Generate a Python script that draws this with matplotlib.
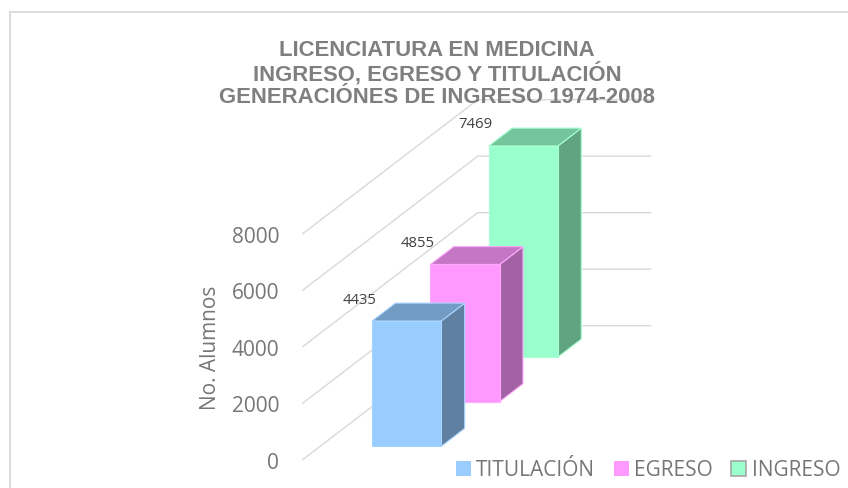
import matplotlib
matplotlib.use("Agg")
import matplotlib.pyplot as plt
from matplotlib.patches import Polygon, Patch, Rectangle

plt.rcParams["font.family"] = ["Open Sans", "DejaVu Sans"]

# data
series = ["TITULACIÓN", "EGRESO", "INGRESO"]
values = [4435, 4855, 7469]
y_ticks = [0, 2000, 4000, 6000, 8000]
title = "LICENCIATURA EN MEDICINA\nINGRESO, EGRESO Y TITULACIÓN\nGENERACIÓNES DE INGRESO 1974-2008"
y_label = "No. Alumnos"

# colours: front, side, top
front_colors = ["#99CCFF", "#FF99FF", "#99FFCC"]
side_colors = ["#6080A2", "#A362A3", "#60A480"]
top_colors = ["#739CC4", "#C576C5", "#75C59C"]
edge_colors = ["#A9D3FF", "#FFA9FF", "#A9FFD3"]

# oblique projection of the depth axis (in x units / value units)
DX = 1.0116
DV = 4743.0


def proj(x, v, t):
    return (x + t * DX, v + t * DV)


fig = plt.figure(figsize=(8.48, 4.89), dpi=100)
fig.patches.append(Rectangle((10 / 848, -0.1), 1.2, 1 - 13 / 489 + 0.1,
                             transform=fig.transFigure, fill=False,
                             edgecolor="#D9D9D9", lw=1.3))

ax = fig.add_axes([302.7 / 848, 1 - 460.7 / 489, 348 / 848, 360 / 489])
ax.set_xlim(0, DX + 1)
ax.set_ylim(0, max(y_ticks) + DV)
for s in ax.spines.values():
    s.set_visible(False)
ax.set_xticks([])
ax.set_yticks(y_ticks)
ax.tick_params(axis="y", length=0, pad=17, labelsize=15, labelcolor="#767676")
ax.patch.set_alpha(0)

# gridlines: left wall diagonal then back wall
for v in y_ticks:
    p0 = proj(0, v, 0)
    p1 = proj(0, v, 1)
    p2 = proj(1, v, 1)
    ax.plot([p0[0], p1[0], p2[0]], [p0[1], p1[1], p2[1]],
            color="#D9D9D9", lw=1, zorder=1, clip_on=False)

# bars, drawn back to front
n = len(series)
x0, x1 = 0.3, 0.7
for i in reversed(range(n)):
    h = values[i]
    t0 = (i + 0.3) / n
    t1 = (i + 0.7) / n
    z = 10 + (n - i) * 3
    front = [proj(x0, 0, t0), proj(x1, 0, t0), proj(x1, h, t0), proj(x0, h, t0)]
    side = [proj(x1, 0, t0), proj(x1, 0, t1), proj(x1, h, t1), proj(x1, h, t0)]
    top = [proj(x0, h, t0), proj(x1, h, t0), proj(x1, h, t1), proj(x0, h, t1)]
    for pts, col, dz in [(side, side_colors[i], 0), (top, top_colors[i], 1),
                         (front, front_colors[i], 2)]:
        ax.add_patch(Polygon(pts, closed=True, facecolor=col,
                             edgecolor=edge_colors[i], lw=0.8,
                             zorder=z + dz, clip_on=False))
    ax.annotate(f"{h}", xy=proj(x0, h, t0), xytext=(-13, 22),
                textcoords="offset pixels", ha="center", va="center",
                fontsize=10.7, color="#404040", zorder=30)

fig.text(437 / 848, 1 - 40 / 489, title, ha="center", va="top",
         fontsize=15.9, fontweight="bold", color="#7F7F7F",
         family="Liberation Sans", linespacing=1.08)

fig.text(210 / 848, 1 - 348 / 489, y_label, rotation=90, ha="center",
         va="center", fontsize=15, color="#767676")

handles = [Patch(facecolor=front_colors[0], edgecolor="none"),
           Patch(facecolor=front_colors[1], edgecolor="none"),
           Patch(facecolor=front_colors[2], edgecolor="#A6A6A6", lw=1.2)]
leg = fig.legend(handles, series, loc="center", ncol=3, frameon=False,
                 bbox_to_anchor=(648 / 848, 1 - 471 / 489),
                 bbox_transform=fig.transFigure, fontsize=15,
                 handlelength=0.72, handleheight=0.72, handletextpad=0.25,
                 columnspacing=0.9, labelcolor="#767676")

fig.savefig("out.png", dpi=100)
